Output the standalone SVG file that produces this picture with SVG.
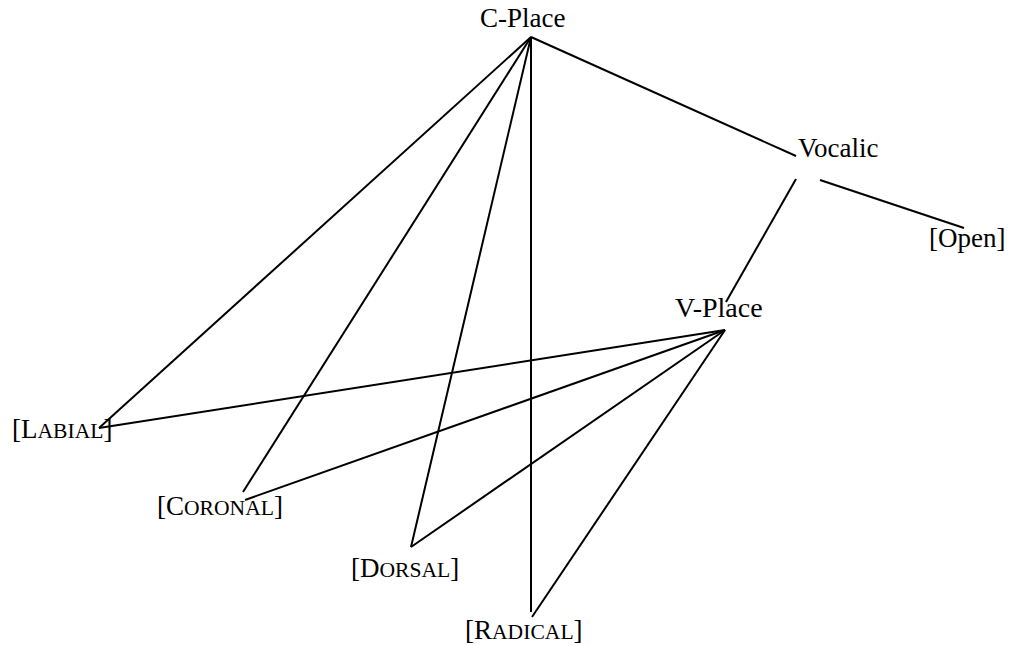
<svg xmlns="http://www.w3.org/2000/svg" width="1009" height="645" viewBox="0 0 1009 645">
<style>
text{font-family:"Liberation Serif","Times New Roman",serif;font-size:27px;fill:#000}
.sc{font-size:21.6px}
.big{font-size:28px}
line{stroke:#000;stroke-width:2;fill:none}
</style>
<rect width="1009" height="645" fill="#fff"/>
<g id="connectors">
<line x1="531" y1="37" x2="99" y2="428"/>
<line x1="531" y1="37" x2="243" y2="492"/>
<line x1="531" y1="37" x2="411" y2="547"/>
<line x1="531" y1="37" x2="531" y2="612"/>
<line x1="531" y1="37" x2="796" y2="156"/>
<line x1="796" y1="179" x2="726" y2="302"/>
<line x1="820" y1="180" x2="964" y2="228"/>
<line x1="725" y1="330" x2="99" y2="428"/>
<line x1="725" y1="330" x2="245" y2="500"/>
<line x1="725" y1="330" x2="411" y2="547"/>
<line x1="725" y1="330" x2="532" y2="617"/>
</g>
<g id="c-place"><text x="480" y="27">C-Place</text></g>
<g id="vocalic"><text x="798" y="157">Vocalic</text></g>
<g id="open"><text x="929" y="247">[Open]</text></g>
<g id="v-place"><text class="big" x="675" y="317">V-Place</text></g>
<g id="labial"><text x="12" y="438">[L<tspan class="sc">ABIAL</tspan>]</text></g>
<g id="coronal"><text x="157" y="515">[C<tspan class="sc">ORONAL</tspan>]</text></g>
<g id="dorsal"><text x="351" y="577">[D<tspan class="sc">ORSAL</tspan>]</text></g>
<g id="radical"><text x="465" y="639">[R<tspan class="sc">ADICAL</tspan>]</text></g>
</svg>
